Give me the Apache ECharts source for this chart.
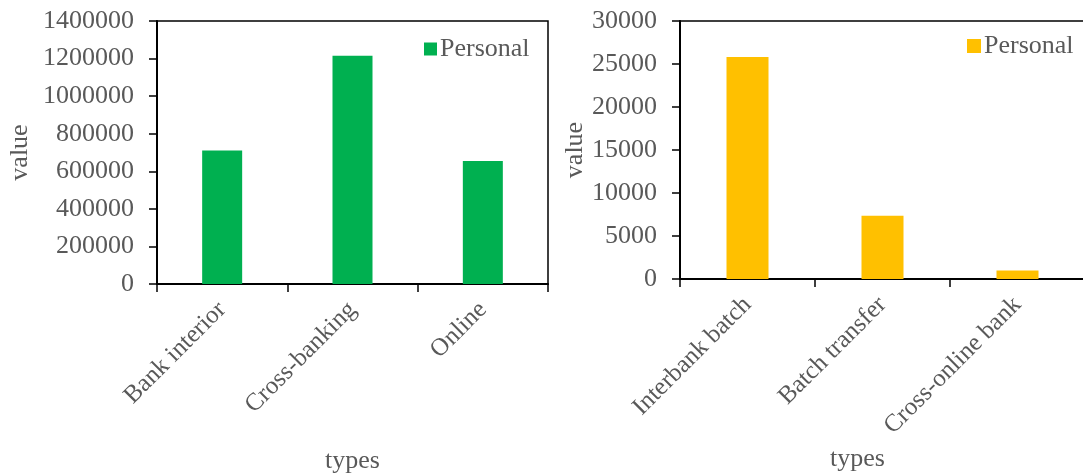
<!DOCTYPE html>
<html>
<head>
<meta charset="utf-8">
<script src="https://cdn.jsdelivr.net/npm/echarts@6/dist/echarts.min.js"></script>
<style>
  html, body { margin: 0; padding: 0; background: #fff; }
  #charts { width: 1083px; height: 475px; }
</style>
</head>
<body>
<div id="charts"></div>
<script>
// left panel
var leftTypes = ['Bank interior', 'Cross-banking', 'Online'];
var leftValues = [710000, 1215000, 655000];
// right panel
var rightTypes = ['Interbank batch', 'Batch transfer', 'Cross-online bank'];
var rightValues = [25800, 7350, 1000];
var seriesName = 'Personal';

var font = "'Liberation Serif', 'Times New Roman', serif";
var grey = '#595959';

function valueAxis(idx, max, step, gap) {
    return {
        type: 'value', gridIndex: idx, min: 0, max: max, interval: step,
        name: 'value', nameLocation: 'middle', nameGap: gap,
        nameTextStyle: { fontFamily: font, fontSize: 26, color: grey },
        axisLine: { show: true, lineStyle: { color: '#000', width: 2 } },
        axisTick: { show: true, length: 8, lineStyle: { color: '#000', width: 1.5 } },
        axisLabel: {
            fontFamily: font, fontSize: 26, color: grey, margin: 23,
            formatter: function (v) { return String(v); }
        },
        splitLine: { show: false }
    };
}

function catAxis(idx, data, pad) {
    return {
        type: 'category', gridIndex: idx, data: data,
        name: 'types', nameLocation: 'middle', nameGap: 164,
        nameTextStyle: { fontFamily: font, fontSize: 26, color: grey, padding: pad },
        axisLine: { lineStyle: { color: '#000', width: 2 } },
        axisTick: { show: true, length: 8, lineStyle: { color: '#000', width: 1.5 } },
        axisLabel: { fontFamily: font, fontSize: 25, color: grey, rotate: 45, margin: 22, interval: 0 }
    };
}

var myChart = echarts.init(document.getElementById('charts'));
var option = {
    animation: false,
    backgroundColor: '#fff',
    grid: [
        { left: 157, top: 21, width: 391, height: 263, outerBoundsMode: 'none', containLabel: false,
          show: true, borderColor: '#000', borderWidth: 1.5 },
        { left: 680, top: 21, width: 405, height: 258, outerBoundsMode: 'none', containLabel: false,
          show: true, borderColor: '#000', borderWidth: 1.5 }
    ],
    legend: [
        {
            left: 419, top: 31, itemWidth: 13, itemHeight: 13, itemGap: 6,
            icon: 'rect', data: [{ name: seriesName + ' ', itemStyle: { color: '#00b050' } }],
            textStyle: { fontFamily: font, fontSize: 26, color: grey, padding: [0, 0, 0, -2] }
        },
        {
            left: 962, top: 28, itemWidth: 14, itemHeight: 14,
            icon: 'rect', data: [{ name: seriesName, itemStyle: { color: '#ffc000' } }],
            textStyle: { fontFamily: font, fontSize: 26, color: grey, padding: [0, 0, 0, -2] }
        }
    ],
    xAxis: [
        catAxis(0, leftTypes, [0, 0, 0, 0]),
        catAxis(1, rightTypes, [0, 50, 0, 0])
    ],
    yAxis: [
        valueAxis(0, 1400000, 200000, 124),
        valueAxis(1, 30000, 5000, 90)
    ],
    series: [
        {
            name: seriesName + ' ', type: 'bar', xAxisIndex: 0, yAxisIndex: 0,
            data: leftValues, barWidth: 40, itemStyle: { color: '#00b050' }
        },
        {
            name: seriesName, type: 'bar', xAxisIndex: 1, yAxisIndex: 1,
            data: rightValues, barWidth: 42, itemStyle: { color: '#ffc000' }
        }
    ]
};
myChart.setOption(option);
</script>
</body>
</html>
